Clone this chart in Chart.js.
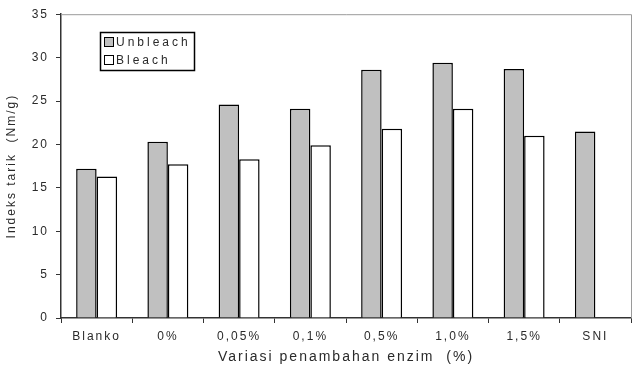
<!DOCTYPE html>
<html>
<head>
<meta charset="utf-8">
<script src="https://cdn.jsdelivr.net/npm/chart.js@4/dist/chart.umd.min.js"></script>
<style>
html,body{margin:0;padding:0;background:#fff;}
#wrap{width:644px;height:370px;position:relative;}
</style>
</head>
<body>
<div id="wrap"><canvas id="c" width="644" height="370"></canvas></div>
<script>
const categories = ["Blanko", "0%", "0,05%", "0,1%", "0,5%", "1,0%", "1,5%", "SNI"];
const unbleach = [17.2, 20.3, 24.6, 24.1, 28.6, 29.4, 28.7, 21.5];
const bleach = [16.3, 17.7, 18.3, 19.9, 21.8, 24.1, 21.0, null];
const yTicks = [0, 5, 10, 15, 20, 25, 30, 35];
const seriesNames = ["Unbleach", "Bleach"];
const xTitle = "Variasi penambahan enzim  (%)";
const yTitle = "Indeks tarik  (Nm/g)";

const FONT = "'Liberation Sans', Arial, sans-serif";
const TEXT = "#2a2a2a";

const spacingPlugin = {
  id: 'spacing',
  beforeInit(chart){ chart.ctx.letterSpacing = '2px'; },
  beforeDraw(chart){ chart.ctx.letterSpacing = '2px'; }
};

const framePlugin = {
  id: 'frame',
  afterDatasetsDraw(chart){
    const {ctx, chartArea:a} = chart;
    ctx.save();
    ctx.strokeStyle = '#9a9a9a';
    ctx.lineWidth = 1;
    ctx.beginPath();
    ctx.moveTo(a.left, a.top + 0.5);
    ctx.lineTo(a.right + 0.5, a.top + 0.5);
    ctx.lineTo(a.right + 0.5, a.bottom);
    ctx.stroke();
    ctx.restore();
  }
};

const legendPlugin = {
  id: 'boxLegend',
  afterDraw(chart){
    const ctx = chart.ctx;
    ctx.save();
    ctx.letterSpacing = '3px';
    const x0 = 100.5, y0 = 32.5, w = 94, h = 38;
    ctx.fillStyle = '#fff';
    ctx.fillRect(x0, y0, w, h);
    ctx.strokeStyle = '#000';
    ctx.lineWidth = 1.5;
    ctx.strokeRect(x0, y0, w, h);
    ctx.lineWidth = 1;
    chart.data.datasets.forEach((ds, i) => {
      const cy = 42 + i * 18;
      ctx.fillStyle = ds.backgroundColor;
      ctx.fillRect(104.5, cy - 4.5, 9, 9);
      ctx.strokeStyle = '#000';
      ctx.strokeRect(104.5, cy - 4.5, 9, 9);
      ctx.fillStyle = TEXT;
      ctx.font = "12px " + FONT;
      ctx.textAlign = 'left';
      ctx.textBaseline = 'middle';
      ctx.fillText(ds.label, 116, cy + 0.5);
    });
    ctx.restore();
  }
};

new Chart(document.getElementById('c'), {
  type: 'bar',
  data: {
    labels: categories,
    datasets: [
      { label: seriesNames[0], data: unbleach, backgroundColor: '#c0c0c0', borderColor: '#000', borderWidth: 1.5 },
      { label: seriesNames[1], data: bleach, backgroundColor: '#ffffff', borderColor: '#000', borderWidth: 1.5 }
    ]
  },
  options: {
    responsive: false,
    animation: false,
    events: [],
    layout: { padding: { top: 8, right: 13, left: 0, bottom: 0 } },
    datasets: { bar: { categoryPercentage: 0.575, barPercentage: 1.0 } },
    plugins: { legend: { display: false }, tooltip: { enabled: false } },
    scales: {
      x: {
        grid: { offset: true, drawOnChartArea: false, drawTicks: true, tickLength: 5, color: '#333' },
        border: { display: true, color: '#333', width: 1.5 },
        ticks: { color: TEXT, font: { family: FONT, size: 12 }, padding: 6, maxRotation: 0, autoSkip: false },
        title: { display: true, text: xTitle, color: TEXT, font: { family: FONT, size: 14 }, padding: { top: 0, bottom: 4 } },
        afterFit(s){ s.height = 52; }
      },
      y: {
        min: 0, max: 35,
        afterBuildTicks(s){ s.ticks = yTicks.map(v => ({ value: v })); },
        grid: { drawOnChartArea: false, drawTicks: true, tickLength: 5, color: '#333' },
        border: { display: true, color: '#333', width: 1.5 },
        ticks: { color: TEXT, font: { family: FONT, size: 12 }, padding: 7 },
        title: { display: true, text: yTitle, color: TEXT, font: { family: FONT, size: 12 }, padding: { top: 4, bottom: 0 } },
        afterFit(s){ s.width = 61; }
      }
    }
  },
  plugins: [spacingPlugin, framePlugin, legendPlugin]
});
</script>
</body>
</html>
